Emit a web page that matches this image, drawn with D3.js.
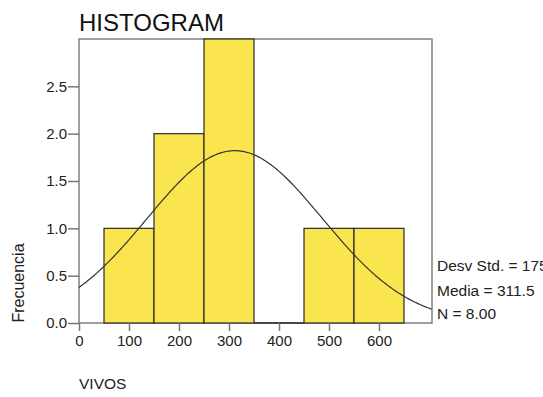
<!DOCTYPE html>
<html>
<head>
<meta charset="utf-8">
<script src="https://cdn.jsdelivr.net/npm/d3@7"></script>
<style>
  body { margin: 0; background: #fff; }
  svg { display: block; font-family: "Liberation Sans", Arial, sans-serif; }
</style>
</head>
<body>
<div id="chart"></div>
<script>
// bins of VIVOS (lower edge, upper edge) and their counts
const binStarts = [50, 150, 250, 350, 450, 550]
const binEnds = [150, 250, 350, 450, 550, 650]
const counts = [1, 2, 3, 0, 1, 1]
const xTicks = [0, 100, 200, 300, 400, 500, 600]
const yTicks = [0, 0.5, 1.0, 1.5, 2.0, 2.5]
const stats = { sd: 175.33, mean: 311.5, n: 8 }
const statLabels = ["Desv Std. = 175.33", "Media = 311.5", "N = 8.00"]

const width = 543
const height = 397
const margin = { top: 39, right: 111, bottom: 74, left: 79 }
const innerW = width - margin.left - margin.right
const innerH = height - margin.top - margin.bottom

const x = d3.scaleLinear().domain([0, 706]).range([0, innerW])
const y = d3.scaleLinear().domain([0, 3]).range([innerH, 0])

const svg = d3.select("#chart").append("svg")
  .attr("width", width).attr("height", height)

// Title
svg.append("text")
  .attr("x", margin.left).attr("y", 30.5)
  .attr("font-size", 24).attr("fill", "#111")
  .text("HISTOGRAM")

const g = svg.append("g")
  .attr("transform", `translate(${margin.left},${margin.top})`)

// Frame
g.append("rect")
  .attr("x", 0).attr("y", 0).attr("width", innerW).attr("height", innerH)
  .attr("fill", "none").attr("stroke", "#808080").attr("stroke-width", 1.5)

// Bars (empty bins show as a dark line on the baseline)
counts.forEach((c, i) => {
  if (!c) {
    g.append("line")
      .attr("x1", x(binStarts[i])).attr("x2", x(binEnds[i]))
      .attr("y1", y(0)).attr("y2", y(0))
      .attr("stroke", "#2a2a2a").attr("stroke-width", 1.4)
    return
  }
  g.append("rect")
    .attr("x", x(binStarts[i]))
    .attr("y", y(c))
    .attr("width", x(binEnds[i]) - x(binStarts[i]))
    .attr("height", y(0) - y(c))
    .attr("fill", "#fbe54f")
    .attr("stroke", "#2a2a2a")
    .attr("stroke-width", 1.2)
})

// Normal curve fitted from mean, sd, N and bin width
const binW = 100
const pts = d3.range(0, 706 + 1, 3).map(v => {
  const z = (v - stats.mean) / stats.sd
  return [v, stats.n * binW / (stats.sd * Math.sqrt(2 * Math.PI)) * Math.exp(-0.5 * z * z)]
})
g.append("path")
  .datum(pts)
  .attr("fill", "none")
  .attr("stroke", "#333")
  .attr("stroke-width", 1.2)
  .attr("d", d3.line().x(d => x(d[0])).y(d => y(d[1])))

// Axes
g.append("g")
  .attr("transform", `translate(0,${innerH})`)
  .call(d3.axisBottom(x).tickValues(xTicks).tickSize(8).tickPadding(4).tickFormat(d3.format("d")))
  .call(a => a.select(".domain").remove())
  .call(a => a.selectAll(".tick line").attr("stroke", "#777").attr("stroke-width", 1.5))
  .call(a => a.selectAll(".tick text").attr("font-size", 15).attr("fill", "#222")
    .attr("font-family", "Liberation Sans, Arial, sans-serif"))

g.append("g")
  .call(d3.axisLeft(y).tickValues(yTicks).tickSize(11).tickPadding(1).tickFormat(d3.format(".1f")))
  .call(a => a.select(".domain").remove())
  .call(a => a.selectAll(".tick line").attr("stroke", "#777").attr("stroke-width", 1.5))
  .call(a => a.selectAll(".tick text").attr("font-size", 15).attr("fill", "#222")
    .attr("font-family", "Liberation Sans, Arial, sans-serif"))

// Axis titles
svg.append("text")
  .attr("transform", `translate(24,283) rotate(-90)`)
  .attr("text-anchor", "middle")
  .attr("font-size", 16).attr("fill", "#222")
  .text("Frecuencia")

svg.append("text")
  .attr("x", margin.left).attr("y", 389)
  .attr("font-size", 15.5).attr("fill", "#222")
  .text("VIVOS")

// Stats block
const statY = [271, 295.5, 319]
statLabels.forEach((s, i) => {
  svg.append("text")
    .attr("x", 437).attr("y", statY[i])
    .attr("font-size", 15.5).attr("fill", "#222")
    .text(s)
})
</script>
</body>
</html>
